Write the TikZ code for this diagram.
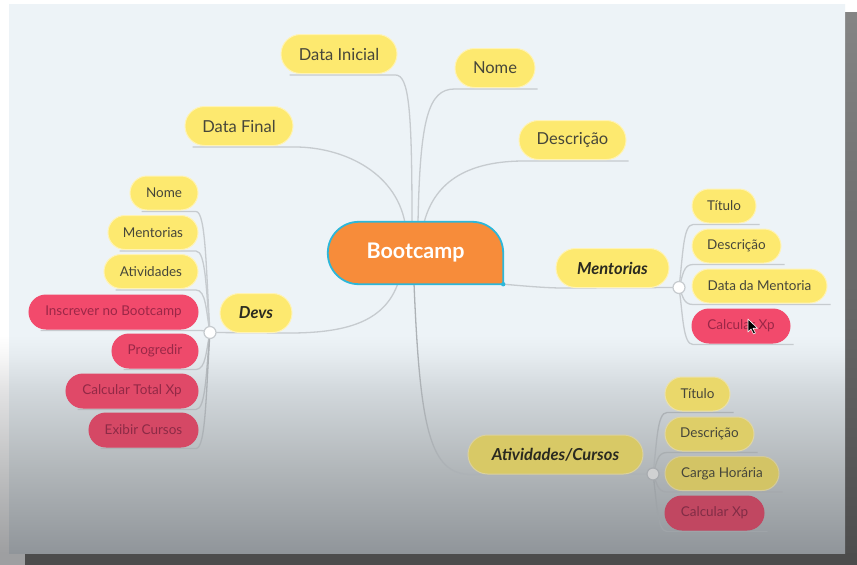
\documentclass[tikz,border=0pt]{standalone}
\usepackage{fontspec}
\setmainfont{Lato}
\usetikzlibrary{calc}
\definecolor{bgtop}{HTML}{EDF3F7}
\definecolor{ylw}{HTML}{FDE96F}
\definecolor{ylwb}{HTML}{FFF3B5}
\definecolor{rd}{HTML}{F24A6C}
\definecolor{rdtxt}{HTML}{9B2747}
\definecolor{txt}{HTML}{46463A}
\definecolor{btxt}{HTML}{2A2A20}
\definecolor{lnk}{HTML}{C6CBCF}
\definecolor{orng}{HTML}{F78C3A}
\definecolor{cyn}{HTML}{2DB7D9}
\definecolor{ovl}{HTML}{3C3F42}
% canvas gradient colours
\definecolor{cA}{HTML}{E6ECF0}
\definecolor{cB}{HTML}{D2D8DC}
\definecolor{cC}{HTML}{B1B6B9}
\definecolor{cD}{HTML}{90959A}
% page gradient colours
\definecolor{pA}{HTML}{F7F7F7}
\definecolor{pB}{HTML}{E2E2E3}
\definecolor{pC}{HTML}{BFC0C1}
\definecolor{pD}{HTML}{9E9FA1}
\pgfdeclareverticalshading{canvsh}{100bp}{color(0bp)=(cD); color(25bp)=(cD);
  color(32.56bp)=(cC); color(39.85bp)=(cB); color(43.03bp)=(cA); color(44.85bp)=(bgtop); color(100bp)=(bgtop)}
\pgfdeclareverticalshading{pagesh}{100bp}{color(0bp)=(pD); color(26.06bp)=(pD);
  color(33.41bp)=(pC); color(40.49bp)=(pB); color(43.58bp)=(pA); color(45.35bp)=(white); color(100bp)=(white)}
\pgfdeclarelayer{back}\pgfdeclarelayer{links}
\pgfsetlayers{back,links,main}
\tikzset{
  link/.style={draw=lnk, line width=1.3pt},
  big/.style={rectangle, rounded corners=19.5pt, fill=ylw, draw=ylwb, line width=1pt,
    minimum height=39pt, inner sep=0pt, font=\fontsize{16.5}{18}\selectfont, text=txt},
  bigb/.style={big, font=\fontsize{16.5}{18}\selectfont\bfseries\itshape, text=btxt},
  sm/.style={rectangle, rounded corners=17pt, fill=ylw, draw=ylwb, line width=1pt,
    minimum height=34pt, inner sep=0pt, font=\fontsize{13.5}{15}\selectfont, text=txt},
  smr/.style={sm, fill=rd, draw=rd, text=rdtxt},
  ydim/.style={fill=ylw!#1!ovl, draw=ylwb!#1!ovl},
  rdim/.style={fill=rd!#1!ovl, draw=rd!#1!ovl, text=rdtxt!#1!ovl},
  junc/.style={circle, fill=white, draw=lnk, line width=1.2pt, minimum size=12pt, inner sep=0pt},
}
\begin{document}
\begin{tikzpicture}[x=1pt, y=-1pt]
\useasboundingbox (0,0) rectangle (857,565);
\begin{pgfonlayer}{back}
  \shade[shading=pagesh] (0,0) rectangle (857,565);
  \shade[top color=black!48, bottom color=black!70] (845,12) rectangle (857,565);
  \fill[black!70] (25,553) rectangle (857,565);
  \shade[shading=canvsh] (9,4) rectangle (845,553);
\end{pgfonlayer}

% central node
\node[rectangle, minimum width=175pt, minimum height=62pt, inner sep=0pt] (boot) at (415.5,253) {};
\path[fill=orng, draw=cyn, line width=1.8pt, rounded corners=31pt]
  (boot.south east) -- (boot.south west) -- (boot.north west) -- (boot.north east) -- (boot.south east);
\fill[cyn] (boot.south east) circle (2.2);
\node[font=\fontsize{21.5}{24}\selectfont\bfseries, text=white] (boottxt) at (boot) {Bootcamp};

% top nodes
\node[big, minimum width=116pt] (dini) at (339,54) {Data Inicial};
\node[big, minimum width=80pt] (nome) at (495,68) {Nome};
\node[big, minimum width=108pt] (dfin) at (239,126) {Data Final};
\node[big, minimum width=107pt] (desc) at (572.5,140) {Descrição};

% main branches
\node[bigb, minimum width=113pt] (ment) at (612.5,268) {Mentorias};
\node[bigb, minimum width=72pt] (devs) at (256,313) {Devs};
\node[bigb, ydim=81, minimum width=175pt] (acts) at (555.5,454.5) {Atividades/Cursos};

% Mentorias children
\node[sm, minimum width=64pt] (mt1) at (724,206) {Título};
\node[sm, minimum width=89pt] (mt2) at (736.5,246) {Descrição};
\node[sm, minimum width=135pt] (mt3) at (759.5,286) {Data da Mentoria};
\node[smr, minimum width=98pt] (mt4) at (741,326) {Calcular Xp};

% Devs children
\node[sm, minimum width=68pt] (dv1) at (164,193) {Nome};
\node[sm, minimum width=90pt] (dv2) at (153,232.5) {Mentorias};
\node[sm, minimum width=94pt] (dv3) at (151,271.5) {Atividades};
\node[smr, minimum width=169pt] (dv4) at (113.5,312) {Inscrever no Bootcamp};
\node[smr, rdim=98, minimum width=86pt] (dv5) at (155,351) {Progredir};
\node[smr, rdim=90, minimum width=132pt] (dv6) at (132,391) {Calcular Total Xp};
\node[smr, rdim=84, minimum width=109pt] (dv7) at (143.5,430) {Exibir Cursos};

% Atividades/Cursos children
\node[sm, ydim=90, minimum width=65pt] (ac1) at (697.5,394) {Título};
\node[sm, ydim=84, minimum width=89pt] (ac2) at (709.5,434) {Descrição};
\node[sm, ydim=78, minimum width=114pt] (ac3) at (722,473.5) {Carga Horária};
\node[smr, rdim=73, minimum width=99pt] (ac4) at (714.5,513) {Calcular Xp};

\coordinate (jm) at (679,287.5);
\coordinate (jd) at (210,332.5);
\coordinate (ja) at (653,474);

\begin{pgfonlayer}{links}
  \draw[link] ($(boot.north)+(-10.5,1)$) .. controls (395,170) and (340,146.5) ..
    ($(dfin.south east)+(0,1)$) -- ($(dfin.south west)+(8,1)$);
  \draw[link] ($(boot.north)+(-3.5,1)$) .. controls (412,110) and (409,75) ..
    ($(dini.south east)+(-2,1)$) -- ($(dini.south west)+(9,1)$);
  \draw[link] ($(boot.north)+(2.5,1)$) .. controls (420,120) and (428,89) ..
    ($(nome.south west)+(0,1)$) -- ($(nome.south east)+(2,1)$);
  \draw[link] ($(boot.north)+(8.5,1)$) .. controls (435,180) and (470,160.5) ..
    ($(desc.south west)+(8,1)$) -- ($(desc.south east)+(2,1)$);
  \draw[link] ($(boot.south)+(-17.5,-1)$) .. controls (385,320) and (350,332.5) ..
    (devs.south east) -- (jd);
  \draw[link, draw=lnk!82!ovl] ($(boot.south)+(-1.5,-1)$) .. controls (420,430) and (430,474.5) ..
    ($(acts.south west)+(4,0)$) -- (ja);
  \draw[link] (boot.south east) .. controls (525,286) and (540,287.5) ..
    ($(ment.south west)+(4,0)$) -- (jm);
  \foreach \n in {mt1,mt2,mt3,mt4}{
    \draw[link] (jm) .. controls ($(jm)!0.5!(jm |- \n.south)+(4,0)$) and ($(jm |- \n.south)+(4,1)$) ..
      ($(jm |- \n.south)+(14,1)$) -- ($(\n.south east)+(3,1)$);
  }
  \foreach \n/\k in {ac1/82,ac2/79,ac3/76,ac4/72}{
    \draw[link, draw=lnk!\k!ovl] (ja) .. controls ($(ja)!0.5!(ja |- \n.south)+(4,0)$) and ($(ja |- \n.south)+(4,1)$) ..
      ($(ja |- \n.south)+(14,1)$) -- ($(\n.south east)+(3,1)$);
  }
  \foreach \n/\k in {dv1/100,dv2/100,dv3/100,dv4/100,dv5/96,dv6/88,dv7/82}{
    \draw[link, draw=lnk!\k!ovl] (jd) .. controls ($(jd)!0.5!(jd |- \n.south)+(-4,0)$) and ($(jd |- \n.south)+(-4,1)$) ..
      ($(jd |- \n.south)+(-14,1)$) -- ($(\n.south west)+(12,1)$);
  }
\end{pgfonlayer}

\node[junc] (jmc) at (jm) {};
\node[junc] (jdc) at (jd) {};
\node[junc, fill=white!76!ovl, draw=lnk!78!ovl] (jac) at (ja) {};

% mouse cursor
\filldraw[fill=black, draw=white, line width=0.6pt, line join=round]
  (748,319) -- ++(0,13) -- ++(3,-3) -- ++(2.5,5) -- ++(2,-1) -- ++(-2.5,-4.8) -- ++(4.5,0) -- cycle;
\end{tikzpicture}
\end{document}
